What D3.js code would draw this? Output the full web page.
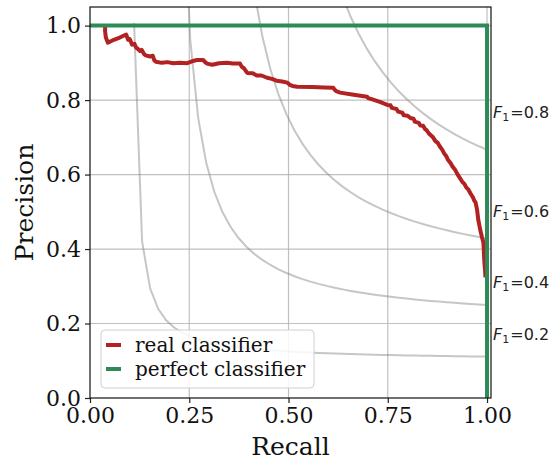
<!DOCTYPE html>
<html>
<head>
<meta charset="utf-8">
<script src="https://cdn.jsdelivr.net/npm/d3@7"></script>
<style>
  body { margin: 0; background: #fff; }
  svg { display: block; }
</style>
</head>
<body>
<svg width="553" height="461"></svg>
<script>
// precision / recall of the real classifier
const recall = [0.038, 0.038, 0.040, 0.045, 0.060, 0.075, 0.091, 0.096, 0.100, 0.106,
  0.112, 0.116, 0.120, 0.126, 0.130, 0.136, 0.140, 0.151, 0.158, 0.162,
  0.166, 0.181, 0.195, 0.210, 0.227, 0.245, 0.260, 0.270, 0.285, 0.290,
  0.295, 0.308, 0.325, 0.345, 0.360, 0.378, 0.382, 0.388, 0.396, 0.410,
  0.420, 0.432, 0.446, 0.458, 0.470, 0.484, 0.497, 0.503, 0.510, 0.522,
  0.560, 0.590, 0.613, 0.617, 0.620, 0.630, 0.660, 0.698, 0.701, 0.705,
  0.713, 0.730, 0.749, 0.757, 0.760, 0.772, 0.776, 0.787, 0.790, 0.800,
  0.807, 0.815, 0.818, 0.828, 0.832, 0.839, 0.844, 0.848, 0.853, 0.857,
  0.864, 0.870, 0.876, 0.882, 0.887, 0.892, 0.897, 0.902, 0.908, 0.914,
  0.920, 0.925, 0.931, 0.938, 0.943, 0.948, 0.953, 0.958, 0.962, 0.965,
  0.968, 0.971, 0.975, 0.978, 0.981, 0.983, 0.985, 0.987, 0.989, 0.991,
  0.992, 0.993, 0.994, 0.995, 0.996];
const precision = [1.000, 0.985, 0.968, 0.954, 0.962, 0.968, 0.976, 0.962, 0.964, 0.949,
  0.951, 0.941, 0.938, 0.932, 0.935, 0.924, 0.920, 0.917, 0.919, 0.907,
  0.903, 0.900, 0.902, 0.899, 0.900, 0.899, 0.905, 0.908, 0.908, 0.902,
  0.898, 0.895, 0.899, 0.900, 0.898, 0.898, 0.890, 0.885, 0.873, 0.872,
  0.866, 0.866, 0.860, 0.857, 0.852, 0.850, 0.847, 0.841, 0.838, 0.836,
  0.835, 0.834, 0.833, 0.827, 0.824, 0.820, 0.815, 0.809, 0.805, 0.804,
  0.801, 0.795, 0.787, 0.786, 0.779, 0.776, 0.769, 0.766, 0.759, 0.758,
  0.752, 0.750, 0.742, 0.739, 0.732, 0.731, 0.722, 0.719, 0.711, 0.707,
  0.700, 0.690, 0.685, 0.674, 0.667, 0.657, 0.650, 0.639, 0.631, 0.620,
  0.612, 0.602, 0.592, 0.580, 0.575, 0.565, 0.560, 0.550, 0.543, 0.538,
  0.530, 0.526, 0.505, 0.478, 0.462, 0.451, 0.442, 0.433, 0.425, 0.416,
  0.395, 0.370, 0.356, 0.345, 0.324];

// perfect classifier
const perfectRecall = [0, 1, 1];
const perfectPrecision = [1, 1, 0];

// iso-F1 levels and where their labels sit (precision value of the label baseline)
const f1Scores = [0.2, 0.4, 0.6, 0.8];
const f1LabelPrecision = [0.155, 0.295, 0.486, 0.752];

const xTicks = [0, 0.25, 0.5, 0.75, 1.0];
const yTicks = [0, 0.2, 0.4, 0.6, 0.8, 1.0];
const seriesNames = ["real classifier", "perfect classifier"];
const seriesColors = ["#b22222", "#2e8b57"];

let svg = d3.select("svg"),
    margin = {top: 7, right: 62, bottom: 63, left: 90},
    width = +svg.attr("width") - margin.left - margin.right,
    height = +svg.attr("height") - margin.top - margin.bottom,
    g = svg.append("g").attr("transform", "translate(" + margin.left + "," + margin.top + ")");

const serif = "'DejaVu Serif', serif";
const sans = "'DejaVu Sans', sans-serif";

const x = d3.scaleLinear().domain([0, 1.01]).range([0, width]);
const y = d3.scaleLinear().domain([0, 1.05]).range([height, 0]);

svg.append("defs").append("clipPath").attr("id", "plot")
  .append("rect").attr("width", width).attr("height", height);

// grid
g.append("g").selectAll("line").data(xTicks.slice(1)).join("line")
    .attr("x1", d => x(d)).attr("x2", d => x(d))
    .attr("y1", 0).attr("y2", height)
    .attr("stroke", "#b0b0b0").attr("stroke-opacity", 0.8).attr("stroke-width", 1.2);
g.append("g").selectAll("line").data(yTicks.slice(1)).join("line")
    .attr("y1", d => y(d)).attr("y2", d => y(d))
    .attr("x1", 0).attr("x2", width)
    .attr("stroke", "#b0b0b0").attr("stroke-opacity", 0.8).attr("stroke-width", 1.2);

// iso-F1 curves, sampled like np.linspace(0.01, 1, 50)
const line_gen = d3.line().x(d => x(d[0])).y(d => y(d[1]));
const samples = d3.range(50).map(i => 0.01 + i * 0.99 / 49);
const iso = g.append("g").attr("clip-path", "url(#plot)");
f1Scores.forEach(f => {
  const pts = samples.map(r => [r, f * r / (2 * r - f)]).filter(p => p[1] >= 0);
  iso.append("path")
      .attr("d", line_gen(pts))
      .attr("fill", "none")
      .attr("stroke", "#808080")
      .attr("stroke-opacity", 0.45)
      .attr("stroke-width", 2);
});

// F1 labels, to the right of the axes
f1Scores.forEach((f, i) => {
  const t = g.append("text")
      .attr("x", x(1.0) + 6)
      .attr("y", y(f1LabelPrecision[i]))
      .attr("font-family", sans)
      .attr("font-size", 16)
      .attr("fill", "#222");
  t.append("tspan").attr("font-style", "italic").text("F");
  t.append("tspan").attr("font-size", 11).attr("dy", 3).text("1");
  t.append("tspan").attr("dy", -3).attr("dx", 1).text("=" + f.toFixed(1));
});

// classifier curves
const plotArea = g.append("g").attr("clip-path", "url(#plot)");
plotArea.append("path")
    .datum(recall.map((r, i) => [r, precision[i]]))
    .attr("d", line_gen)
    .attr("fill", "none")
    .attr("stroke", seriesColors[0])
    .attr("stroke-width", 4)
    .attr("stroke-linejoin", "round");
plotArea.append("path")
    .datum(perfectRecall.map((r, i) => [r, perfectPrecision[i]]))
    .attr("d", line_gen)
    .attr("fill", "none")
    .attr("stroke", seriesColors[1])
    .attr("stroke-width", 4);

// axes
const xAxis = g.append("g")
    .attr("transform", "translate(0," + height + ")")
    .call(d3.axisBottom(x).tickValues(xTicks).tickFormat(d3.format(".2f")).tickSize(5).tickPadding(3));
const yAxis = g.append("g")
    .call(d3.axisLeft(y).tickValues(yTicks).tickFormat(d3.format(".1f")).tickSize(5).tickPadding(4));
[xAxis, yAxis].forEach(a => {
  a.select(".domain").remove();
  a.selectAll("line").attr("stroke", "#222").attr("stroke-width", 1.2);
  a.selectAll("text").attr("font-family", serif).attr("font-size", 22).attr("fill", "#111");
});
xAxis.selectAll("text").attr("dy", "0.78em");

g.append("rect")
    .attr("width", width).attr("height", height)
    .attr("fill", "none").attr("stroke", "#111").attr("stroke-width", 1.2);

svg.append("text")
    .attr("x", margin.left + width / 2)
    .attr("y", 455)
    .attr("text-anchor", "middle")
    .attr("font-family", serif).attr("font-size", 25).attr("fill", "#111")
    .text("Recall");
svg.append("text")
    .attr("transform", "translate(33," + (margin.top + height / 2) + ") rotate(-90)")
    .attr("text-anchor", "middle")
    .attr("font-family", serif).attr("font-size", 25).attr("fill", "#111")
    .text("Precision");

// legend
const legend = g.append("g").attr("transform", "translate(11,323)");
legend.append("rect")
    .attr("width", 213).attr("height", 58).attr("rx", 4)
    .attr("fill", "#fff").attr("fill-opacity", 0.85)
    .attr("stroke", "#d0d0d0").attr("stroke-width", 1);
seriesNames.forEach((name, i) => {
  const row = legend.append("g").attr("transform", "translate(0," + (15 + i * 24) + ")");
  row.append("line")
      .attr("x1", 5).attr("x2", 20)
      .attr("stroke", seriesColors[i]).attr("stroke-width", 4);
  row.append("text")
      .attr("x", 34).attr("y", 7)
      .attr("font-family", serif).attr("font-size", 20).attr("fill", "#111")
      .text(name);
});
</script>
</body>
</html>
